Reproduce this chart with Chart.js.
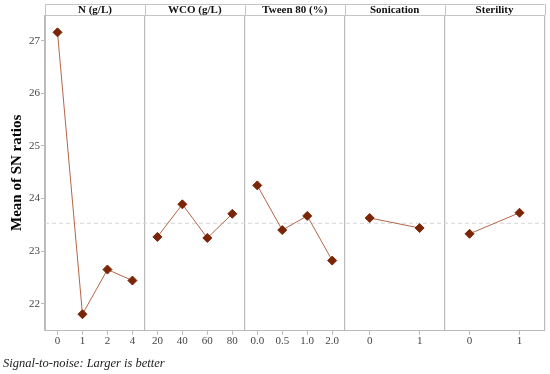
<!DOCTYPE html>
<html>
<head>
<meta charset="utf-8">
<script src="https://cdn.jsdelivr.net/npm/chart.js@4"></script>
<style>
  body { margin: 0; background: #fff; }
</style>
</head>
<body>
<canvas id="myChart" width="550" height="374"></canvas>
<script>
const panels = ['N (g/L)', 'WCO (g/L)', 'Tween 80 (%)', 'Sonication', 'Sterility']
const nLevels = ['0', '1', '2', '4']
const nSN = [27.16, 21.80, 22.65, 22.44]
const wcoLevels = ['20', '40', '60', '80']
const wcoSN = [23.27, 23.89, 23.25, 23.71]
const tweenLevels = ['0.0', '0.5', '1.0', '2.0']
const tweenSN = [24.25, 23.40, 23.67, 22.82]
const sonLevels = ['0', '1']
const sonSN = [23.63, 23.44]
const sterLevels = ['0', '1']
const sterSN = [23.33, 23.73]
const meanSN = 23.53
const yTicks = [22, 23, 24, 25, 26, 27]

const levels = [nLevels, wcoLevels, tweenLevels, sonLevels, sterLevels]
const values = [nSN, wcoSN, tweenSN, sonSN, sterSN]

// x position of each level: panel index + centred slot inside the panel
const xTicks = []
const datasets = []
levels.forEach((lv, p) => {
    const pts = lv.map((label, i) => {
        const x = p + (i + 0.5) / lv.length
        xTicks.push({ value: x, label: label })
        return { x: x, y: values[p][i] }
    })
    datasets.push({
        data: pts,
        borderColor: '#b5654a',
        borderWidth: 1,
        backgroundColor: '#7a2606',
        pointBackgroundColor: '#7a2606',
        pointBorderColor: '#7a2606',
        pointStyle: 'rectRot',
        pointRadius: 4.5,
        tension: 0,
    })
})
datasets.push({
    data: [{ x: 0, y: meanSN }, { x: panels.length, y: meanSN }],
    borderColor: '#d6d6d6',
    borderWidth: 1,
    borderDash: [4, 3],
    pointRadius: 0,
})

const tickLabel = v => {
    const t = xTicks.find(t => Math.abs(t.value - v) < 1e-6)
    return t ? t.label : ''
}

const headerPlugin = {
    id: 'header',
    afterDraw(chart) {
        const { ctx, chartArea, scales } = chart
        const top = chartArea.top - 11
        ctx.save()
        ctx.strokeStyle = '#c4c4c4'
        ctx.lineWidth = 1
        ctx.beginPath()
        ctx.moveTo(chartArea.left, top + 0.5)
        ctx.lineTo(chartArea.right, top + 0.5)
        ctx.moveTo(chartArea.left, chartArea.top + 0.5)
        ctx.lineTo(chartArea.right, chartArea.top + 0.5)
        for (let p = 0; p <= panels.length; p++) {
            const x = Math.round(scales.x.getPixelForValue(p)) + 0.5
            ctx.moveTo(x, top)
            ctx.lineTo(x, chartArea.top)
        }
        ctx.stroke()
        ctx.fillStyle = '#111'
        ctx.font = 'bold 11px "Liberation Serif", serif'
        ctx.textAlign = 'center'
        ctx.textBaseline = 'middle'
        panels.forEach((name, p) => {
            ctx.fillText(name, scales.x.getPixelForValue(p + 0.5), top + 6)
        })
        ctx.restore()
    }
}

const ctx = document.getElementById('myChart')

const myChart = new Chart(ctx, {
    type: 'line',
    data: { datasets: datasets },
    options: {
        responsive: false,
        animation: false,
        layout: { padding: { top: 15, right: 5, left: 3, bottom: 0 } },
        plugins: {
            legend: { display: false },
            tooltip: { enabled: false },
            title: {
                display: true,
                position: 'bottom',
                align: 'start',
                text: 'Signal-to-noise: Larger is better',
                color: '#222',
                font: { family: '"Liberation Serif", serif', size: 12.5, style: 'italic', weight: 'normal' },
                padding: { top: 8, bottom: 3 },
            },
        },
        scales: {
            x: {
                type: 'linear',
                min: 0,
                max: panels.length,
                afterBuildTicks: scale => { scale.ticks = xTicks.map(t => ({ value: t.value })) },
                ticks: {
                    callback: v => tickLabel(v),
                    color: '#444',
                    font: { family: '"Liberation Serif", serif', size: 11 },
                    maxRotation: 0,
                    autoSkip: false,
                    padding: 0,
                },
                grid: { drawOnChartArea: false, tickLength: 4, color: '#bbb' },
                border: { color: '#bbb' },
            },
            xp: {
                type: 'linear',
                position: 'top',
                min: 0,
                max: panels.length,
                afterBuildTicks: scale => { scale.ticks = panels.map((_, i) => ({ value: i })).concat([{ value: panels.length }]) },
                ticks: { display: false },
                grid: { drawTicks: false, color: '#bbb', lineWidth: 1.2 },
                border: { display: false },
            },
            y: {
                min: 21.485,
                max: 27.49,
                afterBuildTicks: scale => { scale.ticks = yTicks.map(v => ({ value: v })) },
                ticks: {
                    color: '#444',
                    font: { family: '"Liberation Serif", serif', size: 11 },
                    padding: 1,
                },
                grid: { drawOnChartArea: false, tickLength: 4, color: '#bbb' },
                border: { color: '#bbb' },
                title: {
                    display: true,
                    text: 'Mean of SN ratios',
                    color: '#000',
                    font: { family: '"Liberation Serif", serif', size: 15, weight: 'bold' },
                    padding: { top: 5, bottom: 2 },
                },
            },
        },
    },
    plugins: [headerPlugin],
})
</script>
</body>
</html>
